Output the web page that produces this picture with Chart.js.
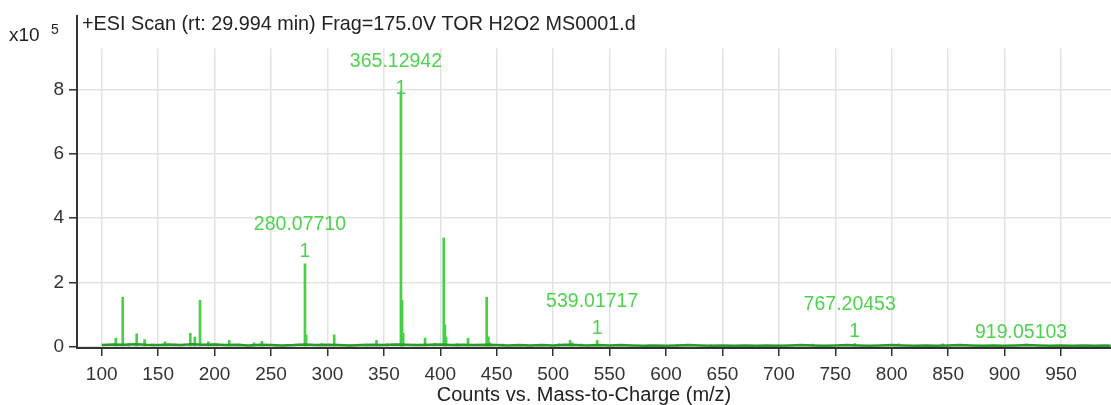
<!DOCTYPE html>
<html lang="en">
<head>
    <meta charset="UTF-8">
    <title>ESI Scan Spectrum</title>
    <script src="https://cdn.jsdelivr.net/npm/chart.js"></script>
    <style>
        html, body {
            margin: 0;
            padding: 0;
            background: #fff;
        }
        #wrap {
            width: 1111px;
            height: 405px;
            position: relative;
        }
    </style>
</head>
<body>
    <div id="wrap"><canvas id="spectrum"></canvas></div>

    <script>
        // Peak list (counts in units of x10^5)
        const peakMz = [112.5, 118.6, 124, 131, 138, 145, 156, 165, 178.5, 182.5, 187.1, 194.5, 201,
            213, 222, 235, 242, 255, 263, 280.08, 281.1, 295, 306, 320, 335, 343.5, 353,
            365.13, 366.13, 367.1, 386.5, 395, 403.1, 404.1, 405.1, 415, 424.6, 441.1, 442.6,
            444, 455, 470, 490, 505, 515, 517, 525, 539.02, 560, 585, 610, 640, 700, 730,
            767.2, 806, 845, 919.05];
        const peakCounts = [0.27, 1.54, 0.1, 0.4, 0.22, 0.08, 0.15, 0.07, 0.42, 0.3, 1.44, 0.15, 0.1,
            0.2, 0.08, 0.12, 0.17, 0.07, 0.06, 2.58, 0.37, 0.1, 0.37, 0.07, 0.08, 0.2, 0.09,
            7.95, 1.44, 0.42, 0.27, 0.1, 3.39, 0.68, 0.3, 0.09, 0.26, 1.54, 0.31,
            0.12, 0.08, 0.06, 0.07, 0.09, 0.2, 0.12, 0.08, 0.2, 0.07, 0.06, 0.07, 0.06, 0.06, 0.08,
            0.1, 0.09, 0.09, 0.08];

        // Baseline noise
        const noiseMz = [100, 110, 120, 130, 140, 150, 160, 170, 180, 190, 200, 210, 220, 230, 240,
            250, 260, 270, 280, 290, 300, 310, 320, 330, 340, 350, 360, 370, 380, 390, 400,
            410, 420, 430, 440, 450, 460, 470, 480, 490, 500, 510, 520, 530, 540, 550, 560,
            570, 580, 590, 600, 610, 620, 630, 640, 650, 660, 670, 680, 690, 700, 710, 720,
            730, 740, 750, 760, 770, 780, 790, 800, 810, 820, 830, 840, 850, 860, 870, 880,
            890, 900, 910, 920, 930, 940, 950, 960, 970, 980, 990, 994];
        const noiseCounts = [0.05, 0.07, 0.06, 0.08, 0.06, 0.05, 0.07, 0.05, 0.08, 0.06, 0.07, 0.05, 0.06, 0.04, 0.06,
            0.05, 0.04, 0.05, 0.07, 0.05, 0.06, 0.05, 0.04, 0.05, 0.06, 0.05, 0.07, 0.06, 0.05, 0.06, 0.07,
            0.05, 0.06, 0.05, 0.06, 0.05, 0.04, 0.05, 0.04, 0.05, 0.04, 0.06, 0.05, 0.04, 0.05, 0.04, 0.05,
            0.04, 0.03, 0.04, 0.03, 0.04, 0.05, 0.04, 0.03, 0.04, 0.03, 0.04, 0.03, 0.04, 0.03, 0.04, 0.05,
            0.04, 0.03, 0.04, 0.05, 0.04, 0.03, 0.04, 0.05, 0.04, 0.03, 0.04, 0.03, 0.04, 0.05, 0.04, 0.03,
            0.04, 0.03, 0.04, 0.05, 0.04, 0.03, 0.04, 0.03, 0.04, 0.03, 0.04, 0.03];

        // Annotated peaks
        const labelMz = [280.0771, 365.12942, 539.01717, 767.20453, 919.05103];
        const labelCounts = [2.58, 7.95, 0.2, 0.1, 0.08];
        const labelText = ['280.07710', '365.12942', '539.01717', '767.20453', '919.05103'];
        const labelCharge = ['1', '1', '1', '1', ''];

        // Axis ticks
        const xTicks = [100, 150, 200, 250, 300, 350, 400, 450, 500, 550, 600, 650, 700, 750, 800, 850, 900, 950];
        const yTicks = [0, 2, 4, 6, 8];

        const titleText = '+ESI Scan (rt: 29.994 min) Frag=175.0V TOR H2O2 MS0001.d';
        const xTitle = 'Counts vs. Mass-to-Charge (m/z)';

        const FONT = '"Liberation Sans", Arial, Helvetica, sans-serif';

        // Draws the title, exponent, axis title and peak labels
        const decorations = {
            id: 'decorations',
            beforeDatasetsDraw(chart) {
                const { ctx, chartArea } = chart;
                // keep the grid out of the title band
                ctx.save();
                ctx.fillStyle = '#fff';
                ctx.fillRect(chartArea.left + 1.5, chartArea.top, chartArea.right - chartArea.left, 32);
                ctx.restore();
            },
            afterDatasetsDraw(chart) {
                const { ctx, chartArea, scales } = chart;
                ctx.save();

                ctx.fillStyle = '#222';
                ctx.textBaseline = 'alphabetic';
                ctx.textAlign = 'left';
                ctx.font = '19.8px ' + FONT;
                ctx.fillText(titleText, chartArea.left + 5, 30);

                ctx.font = '19px ' + FONT;
                ctx.fillText('x10', 9, 41);
                ctx.font = '14px ' + FONT;
                ctx.fillText('5', 51, 34);

                ctx.font = '20px ' + FONT;
                ctx.textAlign = 'center';
                ctx.fillText(xTitle, 584, 401);

                // peak annotations
                ctx.fillStyle = '#4fd24f';
                ctx.font = '19.5px ' + FONT;
                ctx.textBaseline = 'middle';
                labelMz.forEach((mz, i) => {
                    const px = scales.x.getPixelForValue(mz);
                    const py = scales.y.getPixelForValue(labelCounts[i]);
                    if (labelCharge[i]) {
                        const nameY = Math.max(py - 39, chartArea.top + 45);
                        ctx.fillText(labelText[i], px - 5, nameY);
                        ctx.fillText(labelCharge[i], px, nameY + 27);
                    } else {
                        ctx.fillText(labelText[i], px - 5, py - 12);
                    }
                });
                ctx.restore();
            }
        };

        const ctx = document.getElementById('spectrum').getContext('2d');
        new Chart(ctx, {
            data: {
                datasets: [
                    {
                        type: 'line',
                        label: 'noise',
                        data: noiseMz.map((x, i) => ({ x, y: noiseCounts[i] })),
                        borderColor: '#2a9a2a',
                        borderWidth: 2.5,
                        pointRadius: 0,
                        tension: 0,
                        order: 0
                    },
                    {
                        type: 'bar',
                        label: 'peaks',
                        data: peakMz.map((x, i) => ({ x, y: peakCounts[i] })),
                        backgroundColor: '#45d045',
                        barThickness: 2,
                        grouped: false,
                        order: 1
                    }
                ]
            },
            options: {
                responsive: true,
                maintainAspectRatio: false,
                animation: false,
                layout: { padding: { top: 10, left: 0, right: 0, bottom: 0 } },
                plugins: {
                    legend: { display: false },
                    tooltip: { enabled: false }
                },
                scales: {
                    x: {
                        type: 'linear',
                        offset: false,
                        min: 78.1,
                        max: 994.3,
                        afterBuildTicks: scale => { scale.ticks = xTicks.map(v => ({ value: v })); },
                        afterFit: scale => { scale.height = 57; },
                        ticks: {
                            color: '#333',
                            font: { family: FONT, size: 19 },
                            padding: 7,
                            maxRotation: 0,
                            autoSkip: false
                        },
                        grid: {
                            offset: false,
                            color: '#e3e3e3',
                            lineWidth: 1.5,
                            tickColor: '#333',
                            tickLength: 8
                        },
                        border: { color: '#333', width: 2 }
                    },
                    y: {
                        type: 'linear',
                        min: -0.04,
                        max: 10.28,
                        afterBuildTicks: scale => { scale.ticks = yTicks.map(v => ({ value: v })); },
                        afterFit: scale => { scale.width = 77; },
                        ticks: {
                            color: '#333',
                            font: { family: FONT, size: 19 },
                            padding: 5
                        },
                        grid: {
                            color: '#e3e3e3',
                            lineWidth: 1.5,
                            tickColor: '#333',
                            tickLength: 8
                        },
                        border: { color: '#333', width: 2 }
                    }
                }
            },
            plugins: [decorations]
        });
    </script>
</body>
</html>
